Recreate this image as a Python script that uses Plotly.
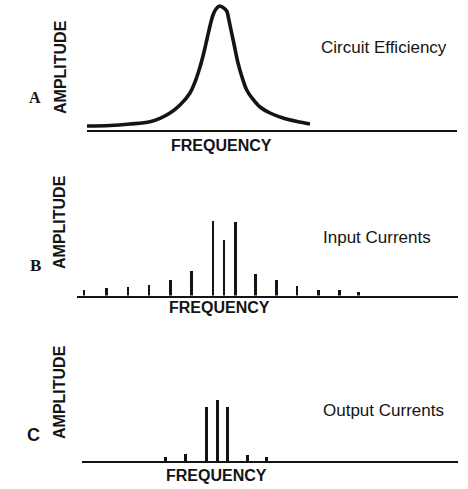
import plotly.graph_objects as go

# Panel A: resonance curve of the tuned circuit
freq_a = [87, 110, 130, 150, 160, 170, 180, 190, 195, 200, 204, 207, 210, 213, 216, 219.5, 223, 226.7,
          228.5, 231, 234, 238, 242, 246.7, 252, 260, 270, 283, 297, 310]
amp_a = [4, 4.5, 6, 8.3, 11.7, 17, 25, 37, 48, 63, 78, 91, 104, 115, 121, 124, 122.5, 119,
         112, 100, 86, 67, 53, 40, 32, 23, 17, 12, 8.5, 6]

# Panel B: spectrum of the input currents
freq_b = [84, 106.7, 128, 149, 170.3, 191.7, 213, 224, 235.3, 255.7, 276.3, 297, 318.3, 339.3, 358.3]
amp_b = [5.7, 7.7, 9, 11, 15.7, 25, 75, 55.7, 74.3, 22.3, 16.3, 9.7, 6.3, 6.3, 3.7]

# Panel C: spectrum of the output currents
freq_c = [165.5, 185.7, 206.7, 217, 227.3, 247.3, 266.7]
amp_c = [3.6, 6.7, 54, 60.7, 54, 6, 4.2]

panel_letters = ["A", "B", "C"]
panel_titles = ["Circuit Efficiency", "Input Currents", "Output Currents"]
axis_x_title = "FREQUENCY"
axis_y_title = "AMPLITUDE"

W, H = 468, 489
INK = "#141414"


def px_x(p):
    return p / W


def px_y(p):
    return 1 - p / H


fig = go.Figure()

fig.add_trace(go.Scatter(
    x=freq_a, y=amp_a, mode="lines",
    line=dict(color=INK, width=3.6, shape="spline", smoothing=1.0),
    xaxis="x", yaxis="y", hoverinfo="skip",
))
fig.add_trace(go.Bar(
    x=freq_b, y=amp_b, width=2.8, marker=dict(color=INK, line=dict(width=0)),
    xaxis="x2", yaxis="y2", hoverinfo="skip",
))
fig.add_trace(go.Bar(
    x=freq_c, y=amp_c, width=3.0, marker=dict(color=INK, line=dict(width=0)),
    xaxis="x3", yaxis="y3", hoverinfo="skip",
))

xaxis_common = dict(showline=True, linecolor=INK, linewidth=2, showgrid=False,
                    zeroline=False, showticklabels=False, ticks="", fixedrange=True)
yaxis_common = dict(visible=False, showgrid=False, zeroline=False, fixedrange=True)

# (left px, right px, baseline px, top px, y max)
panels = [
    (87, 457, 130, 0, 130),
    (77, 458, 295.5, 210.5, 85),
    (82, 458, 461, 391, 70),
]

layout_axes = {}
for i, (l, r, base, top, ymax) in enumerate(panels):
    sfx = "" if i == 0 else str(i + 1)
    layout_axes["xaxis" + sfx] = dict(xaxis_common, domain=[px_x(l), px_x(r)], range=[l, r],
                                      anchor="y" + sfx)
    layout_axes["yaxis" + sfx] = dict(yaxis_common, domain=[px_y(base), px_y(top)], range=[0, ymax],
                                      anchor="x" + sfx)

fig.update_layout(**layout_axes)

label_font = dict(family="Liberation Sans Narrow, Liberation Sans, Arial, sans-serif", size=16, color=INK)
title_font = dict(family="Liberation Sans, Arial, sans-serif", size=17, color=INK)

annotations = []
letter_pos = [(35, 97), (35, 265), (33, 435)]
letter_fonts = [
    dict(family="Liberation Serif, Times New Roman, serif", size=16, color=INK),
    dict(family="Liberation Serif, Times New Roman, serif", size=17, color=INK),
    dict(family="Liberation Sans, Arial, sans-serif", size=18, color=INK),
]
amp_pos = [(61, 67), (59, 222), (59, 392)]
freq_pos = [(221, 145), (219, 307), (216, 475)]
title_pos = [(384, 48), (377, 238), (383, 410)]

for i in range(3):
    annotations.append(dict(text="<b>%s</b>" % panel_letters[i], x=px_x(letter_pos[i][0]), y=px_y(letter_pos[i][1]),
                            xref="paper", yref="paper", showarrow=False, font=letter_fonts[i],
                            xanchor="center", yanchor="middle"))
    annotations.append(dict(text="<b>%s</b>" % axis_y_title, x=px_x(amp_pos[i][0]), y=px_y(amp_pos[i][1]),
                            xref="paper", yref="paper", showarrow=False, font=label_font, textangle=-90,
                            xanchor="center", yanchor="middle"))
    annotations.append(dict(text="<b>%s</b>" % axis_x_title, x=px_x(freq_pos[i][0]), y=px_y(freq_pos[i][1]),
                            xref="paper", yref="paper", showarrow=False, font=label_font,
                            xanchor="center", yanchor="middle"))
    annotations.append(dict(text=panel_titles[i], x=px_x(title_pos[i][0]), y=px_y(title_pos[i][1]),
                            xref="paper", yref="paper", showarrow=False, font=title_font,
                            xanchor="center", yanchor="middle"))

fig.update_layout(
    width=W, height=H,
    margin=dict(l=0, r=0, t=0, b=0),
    paper_bgcolor="white", plot_bgcolor="white",
    showlegend=False, bargap=0,
    annotations=annotations,
)

fig.write_html("out.html", config={"displayModeBar": False})
